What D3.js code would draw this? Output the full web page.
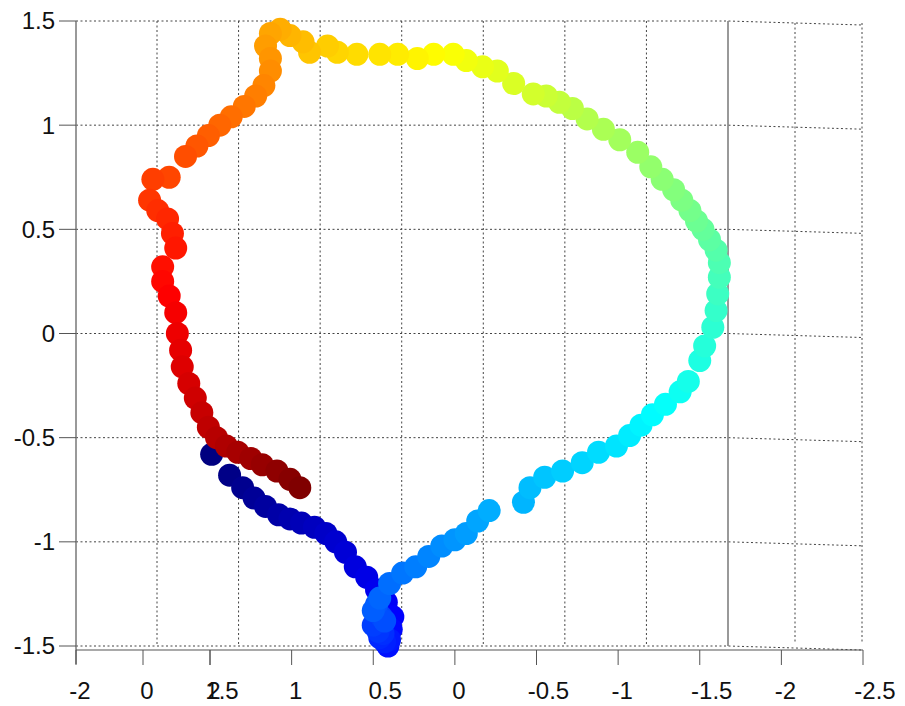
<!DOCTYPE html>
<html>
<head>
<meta charset="utf-8">
<script src="https://cdn.jsdelivr.net/npm/d3@7"></script>
<style>
  body { margin: 0; background: #fff; }
  svg { display: block; font-family: "Liberation Sans", Arial, sans-serif; }
</style>
</head>
<body>
<div id="chart"></div>
<script>
// trajectory points, in plotting order (colour = position along the path, jet map)
const xs = [1.49, 1.38, 1.30, 1.23, 1.16, 1.08, 1.01, 0.94, 0.86, 0.79, 0.73, 0.67, 0.61, 0.54, 0.48, 0.42,
  0.38, 0.39, 0.41, 0.40, 0.43, 0.46, 0.44, 0.47, 0.50, 0.45, 0.43, 0.48, 0.50, 0.46,
  0.40, 0.32, 0.24, 0.16, 0.08, 0.00, -0.07, -0.14, -0.21,
  -0.42, -0.46, -0.55, -0.66, -0.78, -0.88, -0.99, -1.07, -1.14, -1.21, -1.29, -1.38, -1.43,
  -1.50, -1.53, -1.58, -1.60, -1.61, -1.62, -1.62, -1.60, -1.56, -1.52, -1.48, -1.44, -1.39, -1.34,
  -1.27, -1.20, -1.12, -1.01, -0.91, -0.81, -0.72, -0.64, -0.56, -0.48, -0.36, -0.26, -0.17, -0.07,
  0.01, 0.13, 0.23, 0.35, 0.46, 0.60, 0.72, 0.78, 0.89, 0.93, 1.01, 1.07, 1.13, 1.16, 1.13, 1.13,
  1.17, 1.22, 1.29, 1.37, 1.44, 1.51, 1.58, 1.65, 1.75, 1.85, 1.87, 1.82, 1.76, 1.73, 1.71, 1.79,
  1.79, 1.75, 1.71, 1.70, 1.68, 1.67, 1.63, 1.59, 1.55, 1.51, 1.46, 1.40, 1.33, 1.25, 1.18, 1.09,
  1.01, 0.95];
const ys = [-0.58, -0.68, -0.74, -0.79, -0.83, -0.87, -0.89, -0.91, -0.93, -0.96, -1.00, -1.05, -1.12, -1.17, -1.23, -1.29,
  -1.36, -1.42, -1.50, -1.47, -1.48, -1.46, -1.44, -1.43, -1.40, -1.36, -1.38, -1.30, -1.33, -1.27,
  -1.20, -1.15, -1.12, -1.07, -1.02, -0.99, -0.96, -0.90, -0.85,
  -0.81, -0.74, -0.69, -0.66, -0.62, -0.57, -0.54, -0.49, -0.44, -0.39, -0.34, -0.28, -0.23,
  -0.13, -0.06, 0.03, 0.11, 0.19, 0.27, 0.34, 0.40, 0.45, 0.50, 0.54, 0.59, 0.64, 0.69,
  0.74, 0.80, 0.87, 0.93, 0.98, 1.03, 1.08, 1.11, 1.14, 1.15, 1.20, 1.26, 1.28, 1.31,
  1.34, 1.34, 1.32, 1.34, 1.34, 1.34, 1.35, 1.38, 1.35, 1.40, 1.43, 1.46, 1.44, 1.38, 1.32, 1.26,
  1.19, 1.14, 1.09, 1.04, 1.00, 0.95, 0.90, 0.85, 0.75, 0.74, 0.64, 0.59, 0.55, 0.48, 0.41, 0.32,
  0.25, 0.18, 0.10, 0.00, -0.08, -0.16, -0.24, -0.31, -0.38, -0.45, -0.50, -0.54, -0.57, -0.60, -0.63, -0.66,
  -0.70, -0.74];

const yTicks = [-1.5, -1, -0.5, 0, 0.5, 1, 1.5];
const xTicks = [1.5, 1, 0.5, 0, -0.5, -1, -1.5, -2, -2.5];   // front axis
const auxTicks = [-2, 0, 2];                                  // side axis seen edge-on
const gridVals = [1.5, 1, 0.5, 0, -0.5, -1, -1.5, -2];        // floor grid
const backVals = [0, 2];                                       // back wall grid

const width = 905, height = 706;

const svg = d3.select("#chart").append("svg")
  .attr("width", width)
  .attr("height", height);

const y = d3.scaleLinear().domain([-1.5, 1.5]).range([646, 21]);
const x = d3.scaleLinear().domain([1.5, -2.5]).range([210, 863]);
const xAux = d3.scaleLinear().domain([-2, 2]).range([76, 210]);
const xGrid = d3.scaleLinear().domain([1.5, -2]).range([157, 728]);
const xBack = d3.scaleLinear().domain([-2, 2]).range([728, 862]);

const fmt = d => String(d);   // plain hyphen minus, like the original
const gridColor = "#444";

// horizontal grid lines (bend a little on the back wall)
svg.append("g").selectAll("path")
  .data(yTicks)
  .enter().append("path")
  .attr("d", d => `M76,${y(d)}L${xBack(-2)},${y(d)}L${xBack(2)},${y(d) + 4}`)
  .attr("fill", "none")
  .attr("stroke", gridColor)
  .attr("stroke-width", 1)
  .attr("stroke-dasharray", "2,2.5");

// vertical grid lines
svg.append("g").selectAll("line")
  .data(gridVals)
  .enter().append("line")
  .attr("x1", d => xGrid(d)).attr("x2", d => xGrid(d))
  .attr("y1", y(1.5)).attr("y2", y(-1.5))
  .attr("stroke", d => d === -2 ? "#777" : gridColor)
  .attr("stroke-width", d => d === -2 ? 1.5 : 1)
  .attr("stroke-dasharray", d => d === -2 ? null : "2,2.5");

svg.append("g").selectAll("line")
  .data(backVals)
  .enter().append("line")
  .attr("x1", d => xBack(d)).attr("x2", d => xBack(d))
  .attr("y1", y(1.5) + 2).attr("y2", y(-1.5) - 4)
  .attr("stroke", gridColor)
  .attr("stroke-dasharray", "2,2.5");

// left axis
const yAxis = svg.append("g");
yAxis.append("line")
  .attr("x1", 76).attr("x2", 76)
  .attr("y1", y(1.5)).attr("y2", 664)
  .attr("stroke", "#777").attr("stroke-width", 1.5);
yAxis.selectAll("line.tick")
  .data(yTicks)
  .enter().append("line")
  .attr("class", "tick")
  .attr("x1", 59).attr("x2", 76)
  .attr("y1", d => y(d)).attr("y2", d => y(d))
  .attr("stroke", "#555");
yAxis.selectAll("text")
  .data(yTicks)
  .enter().append("text")
  .attr("x", 55)
  .attr("y", d => y(d))
  .attr("dy", "0.35em")
  .attr("text-anchor", "end")
  .attr("font-size", 24)
  .attr("fill", "#111")
  .text(fmt);

// bottom axes
const xAxis = svg.append("g");
xAxis.append("line")
  .attr("x1", 76).attr("x2", x(-2.5))
  .attr("y1", 650).attr("y2", 650)
  .attr("stroke", "#555").attr("stroke-width", 1.2);

const allTicks = xTicks.map(d => ({ v: d, px: x(d) }))
  .concat(auxTicks.map(d => ({ v: d, px: xAux(d) })));

xAxis.selectAll("line.tick")
  .data(allTicks)
  .enter().append("line")
  .attr("class", "tick")
  .attr("x1", d => d.px).attr("x2", d => d.px)
  .attr("y1", 650).attr("y2", 665)
  .attr("stroke", "#555");
xAxis.selectAll("text")
  .data(allTicks)
  .enter().append("text")
  .attr("x", d => d.px + (d.v % 1 ? 12 : 4))
  .attr("y", 699)
  .attr("text-anchor", "middle")
  .attr("font-size", 24)
  .attr("fill", "#111")
  .text(d => fmt(d.v));

// jet colour map
function jet(t) {
  const c = v => Math.round(255 * Math.max(0, Math.min(1, v)));
  return `rgb(${c(1.5 - Math.abs(4 * t - 3))},${c(1.5 - Math.abs(4 * t - 2))},${c(1.5 - Math.abs(4 * t - 1))})`;
}
const color = d3.scaleLinear().domain([0, xs.length - 1]).range([0, 1]);

svg.append("g").selectAll("circle")
  .data(d3.range(xs.length))
  .enter().append("circle")
  .attr("cx", i => x(xs[i]))
  .attr("cy", i => y(ys[i]))
  .attr("r", 11.5)
  .attr("fill", i => jet(color(i)));
</script>
</body>
</html>
